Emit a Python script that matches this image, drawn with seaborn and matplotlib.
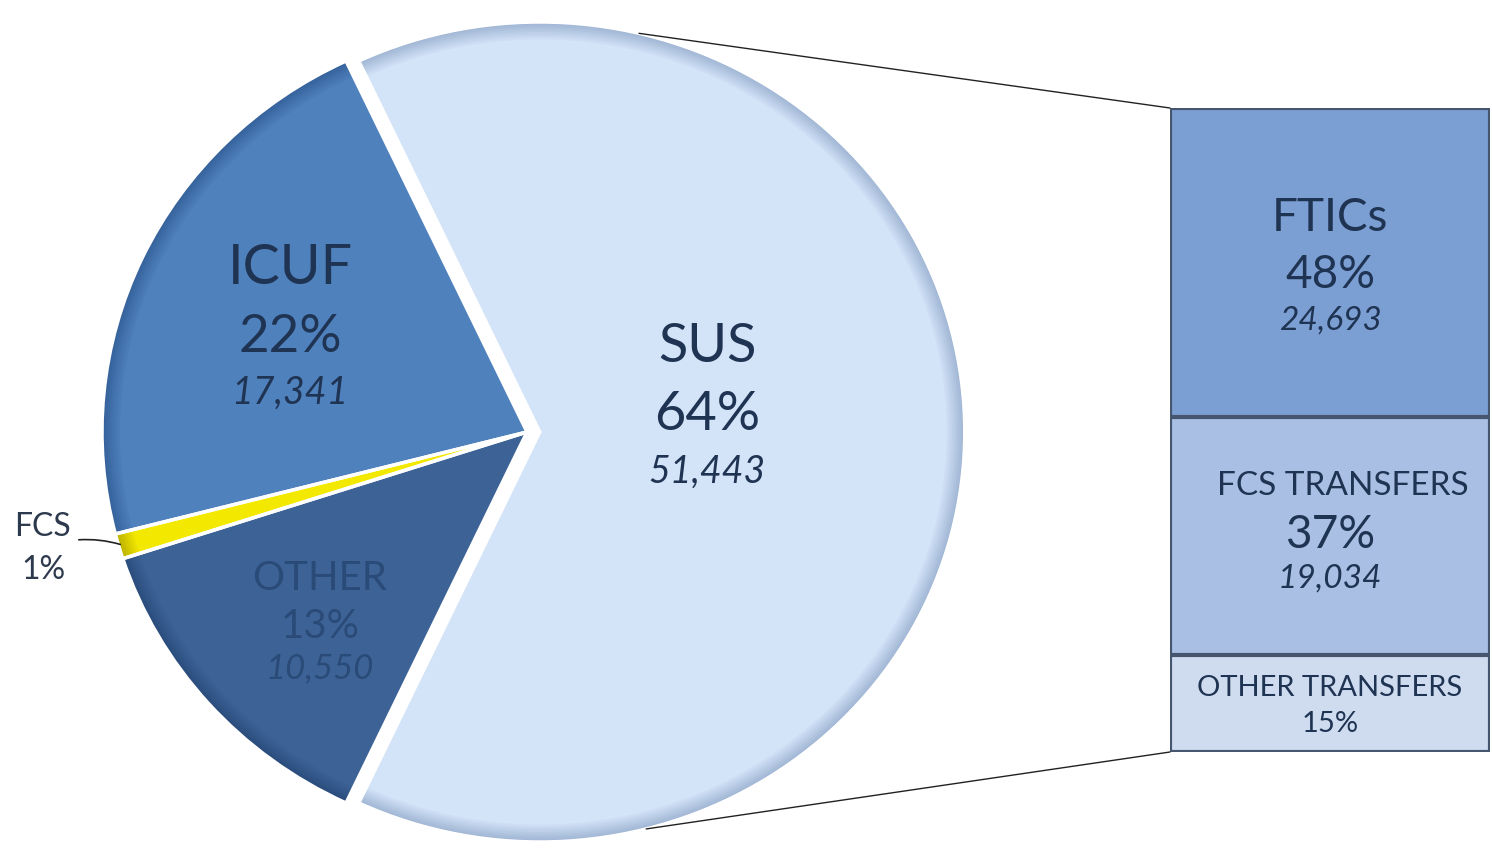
import numpy as np
import matplotlib
matplotlib.use("Agg")
import matplotlib.pyplot as plt
from matplotlib.colors import to_rgb
from matplotlib.patches import ConnectionPatch
import seaborn as sns

# main pie: share of the total and headcount
pie_labels = ["SUS", "ICUF", "FCS", "OTHER"]
pie_pct = [64, 22, 1, 13]
pie_counts = ["51,443", "17,341", "", "10,550"]

# bar of pie: breakdown of the SUS slice
bar_labels = ["FTICs", "FCS TRANSFERS", "OTHER TRANSFERS"]
bar_pct = [48, 37, 15]
bar_counts = ["24,693", "19,034", ""]

sns.set_theme(style="white")
plt.rcParams["font.family"] = ["Lato", "DejaVu Sans"]

pie_fill = ["#d3e3f8", "#4f81bd", "#f3e800", "#3d6396"]
pie_rim = ["#9fb5d4", "#35619a", "#bdb200", "#2a4c7c"]
bar_fill = ["#7c9fd3", "#a9bfe3", "#cfdcf0"]
ink = "#1f3352"

W, H = 1492, 851
fig = plt.figure(figsize=(W / 100, H / 100), dpi=100)
fig.patch.set_facecolor("white")

# pie axes, centre of the pie at (527, 432) px, slightly flattened like the source
cx, cy, rx, ry = 527, 432, 425, 410
ax = fig.add_axes([0, 0, 1100 / W, 1])
explode = [0.03, 0, 0, 0]
start = -pie_pct[0] / 100 * 360 / 2

# shaded rim: a few nested pies going from the rim colour to the fill colour
n = 8
for k in range(n):
    t = k / (n - 1)
    cols = [tuple((1 - t) * np.array(to_rgb(r)) + t * np.array(to_rgb(f)))
            for r, f in zip(pie_rim, pie_fill)]
    wedges, _ = ax.pie(pie_pct, colors=cols, startangle=start, explode=explode,
                       radius=1 - 0.006 * k, wedgeprops=dict(linewidth=0))
# white separators on top
ax.pie(pie_pct, colors=["none"] * 4, startangle=start, explode=explode,
       wedgeprops=dict(edgecolor="white", linewidth=2.5, fill=False))
ax.set_aspect("auto")
ax.set_xlim(-cx / rx, (1100 - cx) / rx)
ax.set_ylim(-(H - cy) / ry, cy / ry)
ax.axis("off")

def px(x, y):
    return (x - cx) / rx, (cy - y) / ry

# SUS
for txt, (x, y), fs, st in [("SUS", (707, 346), 39, "normal"),
                             ("64%", (707, 415), 39, "normal"),
                             (pie_counts[0], (707, 472), 27, "italic")]:
    ax.text(*px(x, y), txt, ha="center", va="center", fontsize=fs,
            style=st, color=ink)
# ICUF
for txt, (x, y), fs, st in [("ICUF", (290, 268), 40, "normal"),
                             ("22%", (290, 337), 38, "normal"),
                             (pie_counts[1], (290, 393), 27, "italic")]:
    ax.text(*px(x, y), txt, ha="center", va="center", fontsize=fs,
            style=st, color=ink)
# OTHER
for txt, (x, y), fs, st in [("OTHER", (320, 579), 29, "normal"),
                             ("13%", (320, 626), 29, "normal"),
                             (pie_counts[3], (320, 668), 25, "italic")]:
    ax.text(*px(x, y), txt, ha="center", va="center", fontsize=fs,
            style=st, color="#2a4a78")
# FCS, outside with a leader line
w = wedges[2]
mid = np.deg2rad((w.theta1 + w.theta2) / 2)
tip = (0.99 * np.cos(mid), 0.99 * np.sin(mid))
ax.text(*px(43, 527), "FCS", ha="center", va="center", fontsize=23, color="#2d3a4d")
ax.text(*px(43, 570), f"{pie_pct[2]}%", ha="center", va="center", fontsize=23,
        color="#2d3a4d")
ax.annotate("", xy=tip, xytext=px(76, 540),
            arrowprops=dict(arrowstyle="-", color="#222", lw=1.2,
                            connectionstyle="arc3,rad=-0.1"))

# stacked bar for the SUS breakdown
bx = fig.add_axes([1170 / W, (H - 752) / H, 320 / W, 644 / H])
cum = np.cumsum(bar_pct[::-1])[::-1]
for val, col in zip(cum, bar_fill):
    sns.barplot(x=[0], y=[val], color=col, width=1, ax=bx,
                edgecolor="#46566e", linewidth=3, saturation=1)
bx.set_xlim(-0.5, 0.5)
bx.set_ylim(0, 100)
bx.axis("off")

def by(y):
    return (752 - y) / 644 * 100

for txt, (x, y), fs, st in [
        (bar_labels[0], (0.0, 218), 33, "normal"),
        (f"{bar_pct[0]}%", (0.0, 275), 33, "normal"),
        (bar_counts[0], (0.0, 321), 24, "italic"),
        (bar_labels[1], (0.04, 486), 24, "normal"),
        (f"{bar_pct[1]}%", (0.0, 535), 33, "normal"),
        (bar_counts[1], (0.0, 579), 24, "italic"),
        (bar_labels[2], (0.0, 688), 21, "normal"),
        (f"{bar_pct[2]}%", (0.0, 724), 21, "normal")]:
    bx.text(x, by(y), txt, ha="center", va="center", fontsize=fs,
            style=st, color=ink)

# connector lines from the SUS slice to the bar
for ang, yb in [(76.5, 100), (-75.5, 0)]:
    a = np.deg2rad(ang)
    con = ConnectionPatch(xyA=(explode[0] + np.cos(a), np.sin(a)), coordsA=ax.transData,
                          xyB=(-0.5, yb), coordsB=bx.transData,
                          color="#222", lw=1)
    fig.add_artist(con)

fig.savefig("out.png", dpi=100, facecolor="white")
